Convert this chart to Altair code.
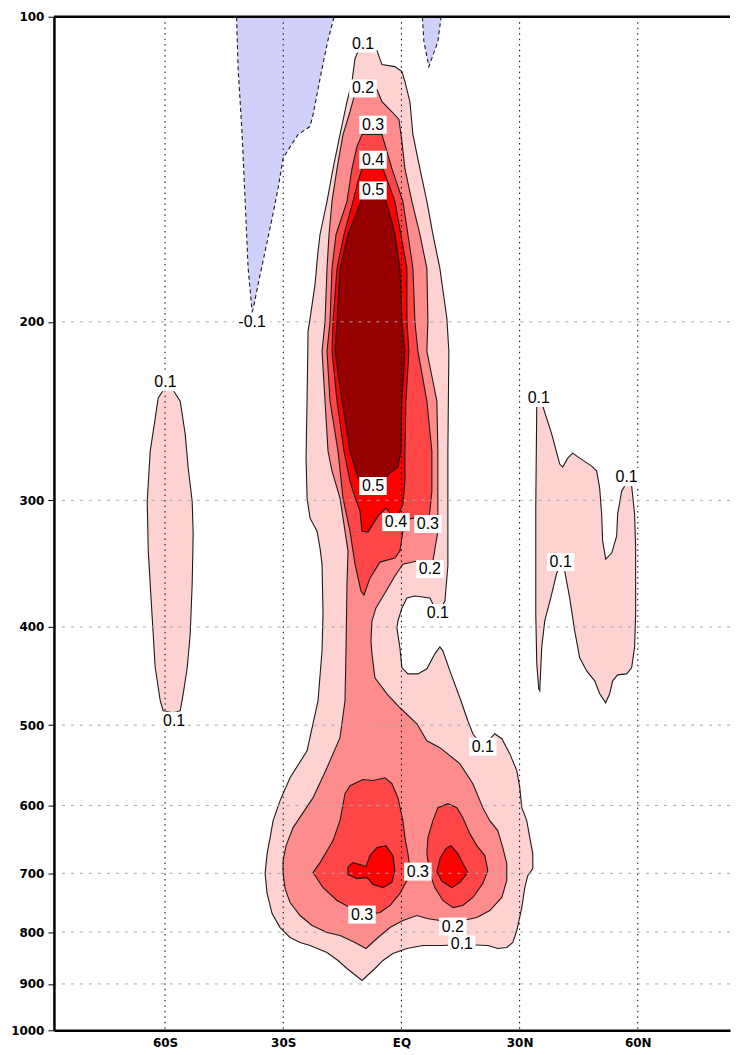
import altair as alt
import pandas as pd

# ---------------- data: contour regions (lat in degrees, pressure in hPa) -------------
NEG_A_LAT = [-41.95, -41.45, -40.43, -39.67, -38.91, -37.90, -37.64, -36.38, -34.60, -32.83,
             -31.31, -30.04, -28.52, -26.24, -23.19, -22.43, -20.15, -18.63, -16.17]
NEG_A_P = [97, 112.5, 130.7, 152.1, 177.1, 195.3, 194.3, 183.7, 170.4, 158.1,
           147.7, 138.0, 134.9, 130.7, 128.3, 124.9, 112.5, 105.4, 97]
NEG_B_LAT = [5.12, 5.70, 6.97, 9.25, 10.52]
NEG_B_P = [97, 105.8, 112.0, 105.8, 97]

L1_MAIN_LAT = [-11.03, -6.21, -4.94, -1.65, 0.13, 0.89, 2.15, 2.92, 4.69, 6.46,
               7.99, 9.76, 11.53, 12.04, 11.79, 11.79, 11.03, 9.25, 7.22, 3.42,
               1.39, 0.13, -0.89, -1.14, -0.38, 0.13, 1.65, 4.18, 6.46, 8.49,
               9.76, 10.52, 12.30, 14.83, 16.86, 18.13, 20.66, 23.70, 25.48, 27.50,
               29.28, 30.04, 30.55, 31.81, 32.58, 33.34, 33.34, 32.07, 31.31, 30.55,
               29.28, 28.27, 26.74, 24.46, 21.93, 15.34, 10.27, 5.45, 1.39, -2.15,
               -4.69, -6.72, -10.01, -13.82, -16.10, -18.89, -23.19, -25.73, -28.27, -30.80,
               -32.83, -34.10, -34.60, -34.10, -33.33, -32.57, -30.80, -28.27, -23.95, -21.17,
               -20.15, -19.90, -20.15, -20.66, -21.42, -23.19, -23.95, -24.21, -23.95, -23.70,
               -23.19, -21.93, -21.17, -20.66, -18.89, -17.36, -15.59, -13.82, -12.55, -11.79]
L1_MAIN_P = [108.3, 108.0, 111.5, 112.0, 113.3, 115.9, 121.3, 130.7, 141.2, 152.1,
             164.0, 177.1, 198.4, 213.8, 268.3, 348.3, 377.1, 388.3, 374.5, 372.8,
             374.5, 383.1, 394.6, 400.9, 419.5, 438.9, 445.0, 445.0, 439.9, 425.2,
             418.5, 422.3, 442.0, 469.8, 495.0, 509.8, 525.0, 509.8, 515.6, 533.4,
             554.4, 576.3, 603.0, 621.1, 645.5, 669.4, 692.6, 703.7, 723.1, 756.7,
             797.2, 819.1, 828.5, 830.4, 824.8, 822.9, 824.8, 824.8, 830.4, 839.9,
             853.3, 869.0, 892.9, 869.0, 853.3, 837.9, 824.8, 819.1, 809.9, 791.8,
             767.0, 732.8, 700.5, 669.4, 645.5, 621.1, 593.5, 563.5, 529.8, 473.0,
             422.3, 388.3, 346.8, 334.4, 321.8, 312.4, 298.5, 272.6, 239.5, 204.4,
             198.4, 183.7, 170.4, 164.0, 152.1, 141.2, 130.7, 121.3, 115.9, 110.0]

L1_SH_LAT = [-60.46, -57.92, -56.15, -54.88, -54.12, -53.11, -52.86, -53.11, -53.61, -54.37,
             -55.39, -56.15, -57.92, -60.46, -61.22, -62.49, -63.25, -64.26, -64.52, -63.76,
             -62.49, -61.73]
L1_SH_P = [233.6, 233.6, 239.5, 258.1, 278.8, 300.6, 323.9, 362.9, 406.4, 438.9,
           465.6, 483.9, 486.1, 483.9, 473.0, 438.9, 391.9, 336.7, 300.6, 268.3,
           248.9, 237.8]

L1_NH_LAT = [34.35, 35.87, 38.15, 40.18, 40.94, 42.21, 43.47, 45.25, 48.29, 49.56,
             50.32, 50.82, 51.08, 51.84, 53.36, 54.63, 54.88, 55.90, 56.66, 57.16,
             58.43, 59.19, 59.45, 59.45, 59.19, 58.43, 57.16, 54.88, 53.61, 52.85,
             51.84, 50.32, 49.05, 47.02, 45.25, 43.98, 42.71, 41.45, 40.69, 39.42,
             38.15, 36.38, 35.62, 35.11, 34.85, 34.35, 34.10, 34.10]
L1_NH_P = [242.2, 242.2, 258.1, 276.3, 278.2, 272.6, 269.5, 272.6, 277.6, 280.7,
           291.8, 309.6, 329.1, 342.8, 338.2, 325.4, 309.6, 293.8, 290.4, 285.2,
           290.4, 309.6, 334.4, 388.3, 418.5, 438.9, 445.0, 446.0, 452.1, 465.6,
           475.2, 465.6, 452.1, 442.0, 429.1, 403.6, 374.5, 352.3, 346.0, 353.9,
           371.1, 394.6, 418.5, 462.4, 460.3, 435.0, 388.3, 304.0]

L2_LAT = [-9.76, -6.21, -4.94, -2.41, -0.63, 0.13, 0.89, 2.66, 4.69, 6.46,
          6.72, 6.46, 7.99, 9.00, 9.25, 9.25, 9.25, 7.99, 7.22, 3.93,
          0.38, -1.65, -4.18, -6.46, -7.48, -7.73, -7.48, -6.72, -3.68, -0.38,
          3.93, 6.46, 9.76, 14.83, 18.13, 20.66, 22.43, 24.46, 25.73, 26.74,
          26.74, 25.48, 22.43, 19.14, 15.59, 12.80, 9.76, 6.46, 3.93, 0.38,
          -2.92, -6.21, -9.00, -11.79, -15.59, -18.89, -22.69, -25.73, -28.27, -29.53,
          -30.04, -30.04, -29.28, -27.50, -22.43, -18.89, -15.59, -14.32, -14.07, -13.82,
          -13.56, -14.32, -15.59, -17.62, -18.63, -19.39, -20.15, -19.39, -18.89, -18.38,
          -17.62, -16.35, -14.83, -13.06, -11.79]
L2_P = [118.0, 118.0, 121.3, 124.1, 126.3, 132.8, 141.2, 152.1, 164.0, 177.1,
        199.8, 213.8, 228.9, 239.5, 268.3, 300.6, 321.8, 344.4, 350.7, 344.4,
        346.8, 356.3, 370.3, 383.1, 394.6, 412.9, 425.2, 449.0, 465.6, 480.6,
        498.4, 518.0, 526.2, 545.7, 571.1, 603.0, 621.1, 635.3, 660.3, 684.8,
        711.5, 739.5, 761.8, 774.0, 779.3, 791.8, 779.3, 775.8, 770.5, 779.3,
        791.8, 811.8, 830.4, 819.1, 806.3, 800.8, 788.2, 770.5, 748.0, 724.7,
        700.5, 680.1, 657.3, 631.0, 589.5, 550.7, 514.4, 473.0, 422.3, 362.9,
        336.7, 321.8, 298.5, 280.7, 268.3, 239.5, 213.8, 200.0, 177.1, 164.0,
        152.1, 141.2, 130.7, 124.1, 119.1]

L3_UP_LAT = [-10.01, -4.94, -2.41, 0.38, 1.65, 2.92, 3.42, 4.18, 6.46, 7.73,
             7.73, 7.22, 6.72, 4.18, 1.65, 0.38, -0.38, -1.65, -5.45, -7.99,
             -9.51, -10.27, -11.79, -13.06, -14.83, -16.10, -18.13, -18.89, -18.13, -17.62,
             -16.60, -13.82, -12.55, -11.28]
L3_UP_P = [130.7, 130.7, 141.2, 152.1, 164.0, 177.1, 200.0, 213.8, 239.5, 268.3,
           293.8, 307.5, 316.6, 311.7, 313.1, 321.8, 336.7, 342.0, 345.2, 358.0,
           372.0, 368.6, 346.8, 321.8, 298.5, 268.3, 239.5, 213.8, 200.0, 177.1,
           164.0, 152.1, 141.2, 134.3]
L3_LL_LAT = [-14.32, -13.06, -9.76, -7.22, -4.18, -2.41, -0.89, 0.38, 0.89, 1.65,
             2.15, 1.39, -0.38, -2.92, -5.45, -9.76, -13.06, -16.35, -19.90, -22.43,
             -20.66, -18.89, -17.36, -15.59]
L3_LL_P = [584.2, 573.6, 565.7, 567.0, 563.5, 571.1, 589.5, 621.1, 645.5, 669.4,
           691.0, 711.5, 732.8, 753.2, 765.3, 770.5, 756.7, 744.6, 723.1, 698.9,
           683.2, 664.9, 649.9, 621.1]
L3_LR_LAT = [7.99, 9.25, 11.79, 14.07, 15.59, 17.36, 19.14, 21.17, 21.93, 20.66,
             18.13, 15.59, 13.06, 10.52, 8.49, 7.22, 6.46, 6.72]
L3_LR_P = [621.1, 603.0, 597.6, 603.0, 616.9, 639.7, 657.3, 672.4, 695.7, 716.3,
           739.5, 753.2, 756.7, 744.6, 723.1, 700.5, 669.4, 645.5]

L4_UP_LAT = [-10.01, -4.69, -1.65, -0.13, 1.39, 1.39, 1.90, 1.14, 0.89, 0.89,
             0.38, -1.39, -3.93, -5.96, -8.49, -10.01, -10.52, -12.29, -13.06, -14.58,
             -16.35, -17.62, -17.36, -16.35, -14.58, -12.29, -11.03]
L4_UP_P = [141.2, 141.2, 152.1, 164.0, 177.1, 200.0, 213.8, 239.5, 268.3, 287.2,
           302.6, 314.5, 305.3, 311.0, 322.5, 321.8, 307.5, 293.8, 287.2, 268.3,
           239.5, 213.8, 200.0, 177.1, 164.0, 152.1, 145.4]
L4_LL_LAT = [-13.56, -12.29, -10.52, -9.00, -7.99, -6.21, -3.93, -2.15, -1.65, -2.41,
             -4.69, -7.22, -8.75, -11.28, -13.56]
L4_LL_P = [689.4, 683.2, 686.3, 689.4, 672.4, 660.3, 657.3, 672.4, 695.7, 714.7,
           723.1, 718.0, 706.9, 708.5, 702.1]
L4_LR_LAT = [12.55, 14.32, 16.86, 14.83, 12.80, 10.27, 9.00, 9.76, 11.28]
L4_LR_P = [657.3, 669.4, 698.9, 714.7, 723.1, 713.1, 697.3, 677.0, 661.8]

L5_LAT = [-10.01, -4.18, -2.41, -1.65, -0.38, 0.13, 0.89, 0.13, -0.13, -0.89,
          -2.92, -5.45, -9.25, -11.03, -13.06, -15.08, -16.86, -16.35, -15.59, -13.56,
          -11.79]
L5_P = [151.1, 151.1, 159.2, 164.0, 177.1, 200.0, 213.8, 239.5, 268.3, 278.2,
        282.0, 289.9, 289.9, 285.2, 268.3, 239.5, 213.8, 200.0, 177.1, 164.0,
        157.4]

LABEL_TEXT = ["0.1", "0.2", "0.3", "0.4", "0.5", "-0.1", "0.1", "0.1", "0.5", "0.4",
              "0.3", "0.2", "0.1", "0.1", "0.1", "0.1", "0.1", "0.3", "0.3", "0.2", "0.1"]
LABEL_LAT = [-9.76, -9.76, -7.22, -7.22, -7.22, -37.9, -59.9, -57.7, -7.22, -1.39,
             6.72, 7.22, 9.25, 20.66, 34.85, 57.16, 40.43, 4.18, -10.01, 13.06, 15.34]
LABEL_P = [106.3, 117.7, 127.8, 138.4, 148.4, 200.0, 229.4, 495.0, 290.4, 315.2,
           316.6, 350.7, 387.5, 525.0, 237.8, 284.6, 345.2, 697.3, 768.8, 790.0, 822.9]

X_TICKS = [-60, -30, 0, 30, 60]
Y_TICKS = [100, 200, 300, 400, 500, 600, 700, 800, 900, 1000]
GRID_P = [200, 300, 400, 500, 600, 700, 800, 900]

# ---------------- chart ----------------
X_SCALE = alt.Scale(domain=[-88.2, 83.4], nice=False, zero=False)
Y_SCALE = alt.Scale(type="log", domain=[100, 1000], reverse=True, nice=False)

X_AXIS = alt.Axis(values=X_TICKS, title=None, grid=False, tickSize=0, labelPadding=7,
                  labelExpr="datum.value == 0 ? 'EQ' : (datum.value < 0 ? (-datum.value) + 'S' : datum.value + 'N')",
                  labelFont="DejaVu Sans", labelFontWeight="bold", labelFontSize=12,
                  labelColor="black", domainColor="black", domainWidth=2.5, zindex=1)
Y_AXIS = alt.Axis(values=Y_TICKS, title=None, grid=False, tickSize=6, tickColor="black",
                  tickWidth=1, labelPadding=4, format="d", labelOverlap=False,
                  labelFont="DejaVu Sans", labelFontWeight="bold", labelFontSize=12,
                  labelColor="black", domainColor="black", domainWidth=2.5, zindex=1)


def poly_frame(polys):
    rows = []
    for k, (lats, ps) in enumerate(polys):
        assert len(lats) == len(ps), (k, len(lats), len(ps))
        for i, (a, b) in enumerate(zip(lats, ps)):
            rows.append({"poly": k, "i": i, "lat": a, "p": b})
    return pd.DataFrame(rows)


def enc():
    return dict(x=alt.X("lat:Q", scale=X_SCALE, axis=X_AXIS),
                y=alt.Y("p:Q", scale=Y_SCALE, axis=Y_AXIS))


def poly_layer(polys, fill, dash=None):
    kw = dict(interpolate="linear-closed", fill=fill, stroke="#1c1c1c",
              strokeWidth=1.1, clip=True)
    if dash:
        kw["strokeDash"] = dash
    return alt.Chart(poly_frame(polys)).mark_line(**kw).encode(
        detail="poly:N", order="i:Q", **enc())


neg = poly_layer([(NEG_A_LAT, NEG_A_P), (NEG_B_LAT, NEG_B_P)], "#D0D0FA", dash=[4, 3])
l1 = poly_layer([(L1_MAIN_LAT, L1_MAIN_P), (L1_SH_LAT, L1_SH_P), (L1_NH_LAT, L1_NH_P)], "#FFD2D2")
l2 = poly_layer([(L2_LAT, L2_P)], "#FF8C8C")
l3 = poly_layer([(L3_UP_LAT, L3_UP_P), (L3_LL_LAT, L3_LL_P), (L3_LR_LAT, L3_LR_P)], "#FF4646")
l4 = poly_layer([(L4_UP_LAT, L4_UP_P), (L4_LL_LAT, L4_LL_P), (L4_LR_LAT, L4_LR_P)], "#FF0000")
l5 = poly_layer([(L5_LAT, L5_P)], "#960000")

vgrid = alt.Chart(pd.DataFrame({"lat": X_TICKS})).mark_rule(
    color="black", strokeWidth=1, strokeDash=[1.5, 4]).encode(
    x=alt.X("lat:Q", scale=X_SCALE, axis=X_AXIS))
hgrid = alt.Chart(pd.DataFrame({"p": GRID_P})).mark_rule(
    color="#a8a8a8", strokeWidth=1, strokeDash=[3, 6]).encode(
    y=alt.Y("p:Q", scale=Y_SCALE, axis=Y_AXIS))

lab = pd.DataFrame({"lat": LABEL_LAT, "p": LABEL_P, "t": LABEL_TEXT})
widths = [8.5 * len(t) + 2 for t in LABEL_TEXT]
lab["shape"] = ["M-1,-{0:.3f}L1,-{0:.3f}L1,{0:.3f}L-1,{0:.3f}Z".format(9 / (w / 2)) for w in widths]
lab["size"] = [w * w for w in widths]

boxes = alt.Chart(lab).mark_point(filled=True, color="white", opacity=1, strokeWidth=0).encode(
    shape=alt.Shape("shape:N", scale=None), size=alt.Size("size:Q", scale=None), **enc())
texts = alt.Chart(lab).mark_text(font="Liberation Sans", fontSize=16, color="black",
                                 align="center", baseline="middle").encode(text="t:N", **enc())

top = alt.Chart(pd.DataFrame({"p": [100]})).mark_rule(color="black", strokeWidth=2.5).encode(
    y=alt.Y("p:Q", scale=Y_SCALE, axis=Y_AXIS))

chart = alt.layer(neg, l1, l2, l3, l4, l5, vgrid, hgrid, boxes, texts, top).properties(
    width=677, height=1015,
    padding={"left": 2, "top": 2, "right": 0, "bottom": 0},
).configure_view(stroke=None)

chart.save("out.html", embed_options={"renderer": "svg", "actions": False})
